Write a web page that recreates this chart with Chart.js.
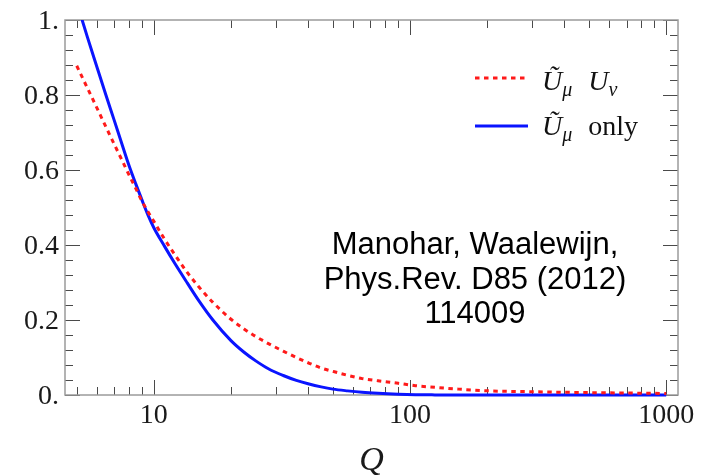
<!DOCTYPE html>
<html>
<head>
<meta charset="utf-8">
<script src="https://cdn.jsdelivr.net/npm/chart.js@4/dist/chart.umd.min.js"></script>
<style>
  html, body { margin: 0; padding: 0; background: #ffffff; }
  #wrap { width: 702px; height: 476px; }
</style>
</head>
<body>
<div id="wrap"><canvas id="c" width="702" height="476"></canvas></div>
<script>
// Scale Q (log axis) and the two evolution factors
const qValues = [5, 5.5, 6, 6.5, 7, 7.5, 8, 8.5, 9, 9.5, 10, 11, 12, 13.5, 15, 17, 20, 22.5, 25, 28, 32, 36, 40, 45, 50, 57, 65, 75, 90, 105, 125, 150, 200, 300, 500, 700, 1000];
const uMuUNu = [0.878, 0.819, 0.765, 0.715, 0.669, 0.627, 0.587, 0.551, 0.516, 0.488, 0.463, 0.416, 0.377, 0.327, 0.288, 0.247, 0.202, 0.176, 0.156, 0.137, 0.117, 0.100, 0.086, 0.072, 0.063, 0.0525, 0.0437, 0.0379, 0.0312, 0.0248, 0.0205, 0.0163, 0.0112, 0.0088, 0.0063, 0.0053, 0.004];
const uMuOnly = [1.047, 0.955, 0.874, 0.800, 0.733, 0.670, 0.612, 0.563, 0.519, 0.479, 0.446, 0.397, 0.354, 0.299, 0.251, 0.200, 0.145, 0.114, 0.091, 0.070, 0.052, 0.039, 0.030, 0.0216, 0.0157, 0.011, 0.0072, 0.0045, 0.0021, 0.0008, 0.0003, 0.0001, 0, 0, 0, 0, 0];

// Axis ticks and labels
const xMajorTicks = [10, 100, 1000];
const xTickLabels = ['10', '100', '1000'];
const yMajorTicks = [0, 0.2, 0.4, 0.6, 0.8, 1];
const yTickLabels = ['0.', '0.2', '0.4', '0.6', '0.8', '1.'];
const xAxisTitle = 'Q';
const noteLines = ['Manohar, Waalewijn,', 'Phys.Rev. D85 (2012)', '114009'];

const toPoints = (ys) => qValues.map((q, i) => ({ x: q, y: ys[i] }));

const SERIF = '"Liberation Serif", "Times New Roman", serif';
const SANS = '"Liberation Sans", Arial, sans-serif';

// Mathematica-style frame: box with inward ticks on all four sides
const framePlugin = {
  id: 'framePlugin',
  beforeDatasetsDraw(chart) {
    const { ctx, chartArea: a, scales: { x, y } } = chart;
    const majorLen = 15, minorLen = 8;
    ctx.save();
    ctx.lineWidth = 1;
    ctx.strokeStyle = '#4a4a4a';
    const vline = (px, len) => {
      const p = Math.round(px) + 0.5;
      ctx.beginPath();
      ctx.moveTo(p, a.bottom); ctx.lineTo(p, a.bottom - len);
      ctx.moveTo(p, a.top); ctx.lineTo(p, a.top + len);
      ctx.stroke();
    };
    const hline = (py, len) => {
      const p = Math.round(py) + 0.5;
      ctx.beginPath();
      ctx.moveTo(a.left, p); ctx.lineTo(a.left + len, p);
      ctx.moveTo(a.right, p); ctx.lineTo(a.right - len, p);
      ctx.stroke();
    };
    // x ticks: decades major, 2..9 minor
    for (let d = 1; d <= 1000; d *= 10) {
      for (let m = 1; m <= 9; m++) {
        const v = d * m;
        if (v < x.min || v > x.max) continue;
        vline(x.getPixelForValue(v), m === 1 ? majorLen : minorLen);
      }
    }
    // y ticks: 0.2 major, 0.04 minor
    for (let i = 0; i <= 25; i++) {
      const v = i * 0.04;
      hline(y.getPixelForValue(v), (i % 5 === 0) ? majorLen : minorLen);
    }
    // frame
    ctx.strokeStyle = '#9b9b9b';
    ctx.lineWidth = 1.5;
    ctx.strokeRect(a.left, a.top, a.right - a.left, a.bottom - a.top);

    // tick labels
    ctx.fillStyle = '#1a1a1a';
    ctx.font = '28px ' + SERIF;
    ctx.textBaseline = 'alphabetic';
    ctx.textAlign = 'right';
    yMajorTicks.forEach((v, i) => {
      ctx.fillText(yTickLabels[i], a.left - 6, y.getPixelForValue(v) + 9);
    });
    ctx.textAlign = 'center';
    xMajorTicks.forEach((v, i) => {
      ctx.fillText(xTickLabels[i], x.getPixelForValue(v), a.bottom + 28);
    });
    // axis title
    ctx.font = 'italic 34px ' + SERIF;
    ctx.fillText(xAxisTitle, (a.left + a.right) / 2, a.bottom + 75);
    ctx.restore();
  }
};

// Legend with sub-scripted labels, plus the citation note
const notePlugin = {
  id: 'notePlugin',
  afterDatasetsDraw(chart) {
    const { ctx } = chart;
    const ds = chart.data.datasets;
    ctx.save();
    ctx.fillStyle = '#111111';
    ctx.textBaseline = 'alphabetic';
    ctx.textAlign = 'left';

    const rows = [
      { lineY: 78, base: 90, parts: [['Ũ', 'i'], ['μ', 's'], [' ', 'g'], ['U', 'i'], ['ν', 's']] },
      { lineY: 126, base: 135, parts: [['Ũ', 'i'], ['μ', 's'], [' ', 'g'], ['only', 'r']] }
    ];
    rows.forEach((row, r) => {
      const d = ds[r];
      ctx.beginPath();
      ctx.strokeStyle = d.borderColor;
      ctx.lineWidth = d.borderWidth;
      ctx.setLineDash(d.borderDash || []);
      ctx.moveTo(475, row.lineY);
      ctx.lineTo(528, row.lineY);
      ctx.stroke();
      ctx.setLineDash([]);
      let xPos = 542;
      row.parts.forEach(([t, kind]) => {
        if (kind === 'g') { xPos += 16; return; }
        if (kind === 's') {
          ctx.font = 'italic 20px ' + SERIF;
          ctx.fillText(t, xPos, row.base + 6);
        } else if (kind === 'i') {
          ctx.font = 'italic 28px ' + SERIF;
          ctx.fillText(t, xPos, row.base);
        } else {
          ctx.font = '28px ' + SERIF;
          ctx.fillText(t, xPos, row.base);
        }
        xPos += ctx.measureText(t).width;
      });
    });

    ctx.font = '31px ' + SANS;
    ctx.textAlign = 'center';
    ctx.fillStyle = '#000000';
    const baselines = [254, 289, 323];
    noteLines.forEach((t, i) => ctx.fillText(t, 475, baselines[i]));
    ctx.restore();
  }
};

new Chart(document.getElementById('c'), {
  type: 'line',
  data: {
    datasets: [
      {
        label: 'Ũμ Uν',
        data: toPoints(uMuUNu),
        borderColor: '#ff1a1a',
        borderWidth: 3,
        borderDash: [4.5, 4.5],
        borderCapStyle: 'butt',
        pointRadius: 0,
        cubicInterpolationMode: 'monotone',
        fill: false,
        clip: { left: 0, top: 0, right: 0, bottom: 3 }
      },
      {
        label: 'Ũμ only',
        data: toPoints(uMuOnly),
        borderColor: '#0a14ff',
        borderWidth: 3,
        pointRadius: 0,
        cubicInterpolationMode: 'monotone',
        fill: false,
        clip: { left: 0, top: 0, right: 0, bottom: 3 }
      }
    ]
  },
  options: {
    responsive: false,
    animation: false,
    devicePixelRatio: 1,
    layout: { padding: { left: 65, top: 20, right: 24, bottom: 81 } },
    scales: {
      x: { type: 'logarithmic', min: 4.5, max: 1112, display: false },
      y: { type: 'linear', min: 0, max: 1, display: false }
    },
    plugins: {
      legend: { display: false },
      tooltip: { enabled: false }
    }
  },
  plugins: [framePlugin, notePlugin]
});
</script>
</body>
</html>
